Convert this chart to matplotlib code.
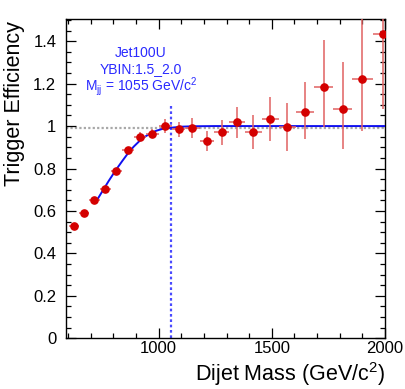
import numpy as np
import matplotlib
matplotlib.use('Agg')
import matplotlib.pyplot as plt
from matplotlib.ticker import MultipleLocator, FuncFormatter

plt.rcParams['font.family'] = ['Liberation Sans', 'DejaVu Sans']
plt.rcParams['mathtext.fontset'] = 'custom'
plt.rcParams['mathtext.rm'] = 'Liberation Sans'
plt.rcParams['mathtext.it'] = 'Liberation Sans:italic'

# dijet mass bin edges (GeV/c^2)
bin_edges = [606, 649, 693, 740, 788, 838, 890, 944, 1000, 1058, 1118, 1181,
             1246, 1313, 1383, 1455, 1530, 1607, 1687, 1770, 1856, 1945, 2037]
# trigger efficiency per bin
eff = [0.530, 0.589, 0.651, 0.703, 0.787, 0.886, 0.950, 0.964, 0.999, 0.984,
       0.991, 0.928, 0.970, 1.017, 0.972, 1.034, 0.995, 1.065, 1.182, 1.079,
       1.220, 1.432]
err_lo = [0.005, 0.006, 0.007, 0.008, 0.010, 0.016, 0.020, 0.022, 0.032, 0.036,
          0.045, 0.047, 0.060, 0.074, 0.082, 0.104, 0.113, 0.127, 0.188, 0.186,
          0.242, 0.353]
err_hi = [0.005, 0.006, 0.007, 0.008, 0.010, 0.016, 0.020, 0.022, 0.032, 0.036,
          0.045, 0.047, 0.060, 0.074, 0.082, 0.104, 0.113, 0.143, 0.222, 0.222,
          0.400, 0.400]

# fitted turn-on curve
fit_m = [722, 750, 780, 810, 840, 865, 890, 915, 940, 965, 990, 1015, 1040,
         1055, 1100, 1150, 1250, 2000]
fit_eff = [0.641, 0.690, 0.742, 0.791, 0.836, 0.872, 0.903, 0.929, 0.950,
           0.966, 0.978, 0.986, 0.991, 0.992, 0.997, 0.999, 1.0, 1.0]

m99 = 1055
trigger = 'Jet100U'
ybin = 'YBIN:1.5_2.0'

edges = np.array(bin_edges, dtype=float)
centers = 0.5 * (edges[1:] + edges[:-1])
half_w = 0.5 * (edges[1:] - edges[:-1])

fig = plt.figure(figsize=(4.06, 3.89), dpi=100)
ax = fig.add_axes([66 / 406, 1 - 338.3 / 389, 319 / 406, 319 / 389])

ax.axhline(0.99, color='#a8a8a8', lw=1.6, ls=(0, (1, 1)), zorder=1)
ax.plot([m99, m99], [0, 1.104], color='#4a4aff', lw=1.6, ls=(0, (1.2, 1.2)), zorder=2)
ax.plot(fit_m, fit_eff, color='#1010f0', lw=1.4, zorder=3)

ax.errorbar(centers, eff, yerr=[err_lo, err_hi], xerr=half_w, fmt='none',
            ecolor='#e06262', elinewidth=1.1, capsize=0, zorder=4)
ax.plot(centers, eff, 'o', color='#d40000', ms=5.2, zorder=5)

ax.set_xlim(591, 2000)
ax.set_ylim(0, 1.503)

ax.xaxis.set_major_locator(MultipleLocator(500))
ax.xaxis.set_minor_locator(MultipleLocator(100))
ax.yaxis.set_major_locator(MultipleLocator(0.2))
ax.yaxis.set_minor_locator(MultipleLocator(0.05))
ax.yaxis.set_major_formatter(FuncFormatter(lambda v, p: '%g' % round(v, 2)))
ax.xaxis.set_major_formatter(FuncFormatter(lambda v, p: '%g' % v))

ax.tick_params(which='both', direction='in', top=True, right=True, labelsize=12)
ax.tick_params(which='major', length=7, width=0.9)
ax.tick_params(which='minor', length=3.8, width=0.9)
ax.tick_params(axis='y', pad=7)
ax.tick_params(axis='x', pad=2)
for s in ax.spines.values():
    s.set_linewidth(1.0)

fig.text(385 / 406, 1 - 381 / 389, 'Dijet Mass (GeV/c$^{2}$)', fontsize=15.5,
         ha='right', va='baseline')
fig.text(15 / 406, 1 - 21 / 389, 'Trigger Efficiency', fontsize=15.5,
         rotation=90, ha='center', va='top')

tc = '#2a2aff'
ax.text(0.235, 0.893, trigger, transform=ax.transAxes, color=tc,
        fontsize=10, ha='center', va='center')
ax.text(0.235, 0.843, ybin, transform=ax.transAxes, color=tc,
        fontsize=10, ha='center', va='center')
ax.text(0.235, 0.788, r'M$_{\mathrm{jj}}$ = %d GeV/c$^{2}$' % m99,
        transform=ax.transAxes, color=tc, fontsize=10, ha='center', va='center')

fig.savefig('out.png', dpi=100)
